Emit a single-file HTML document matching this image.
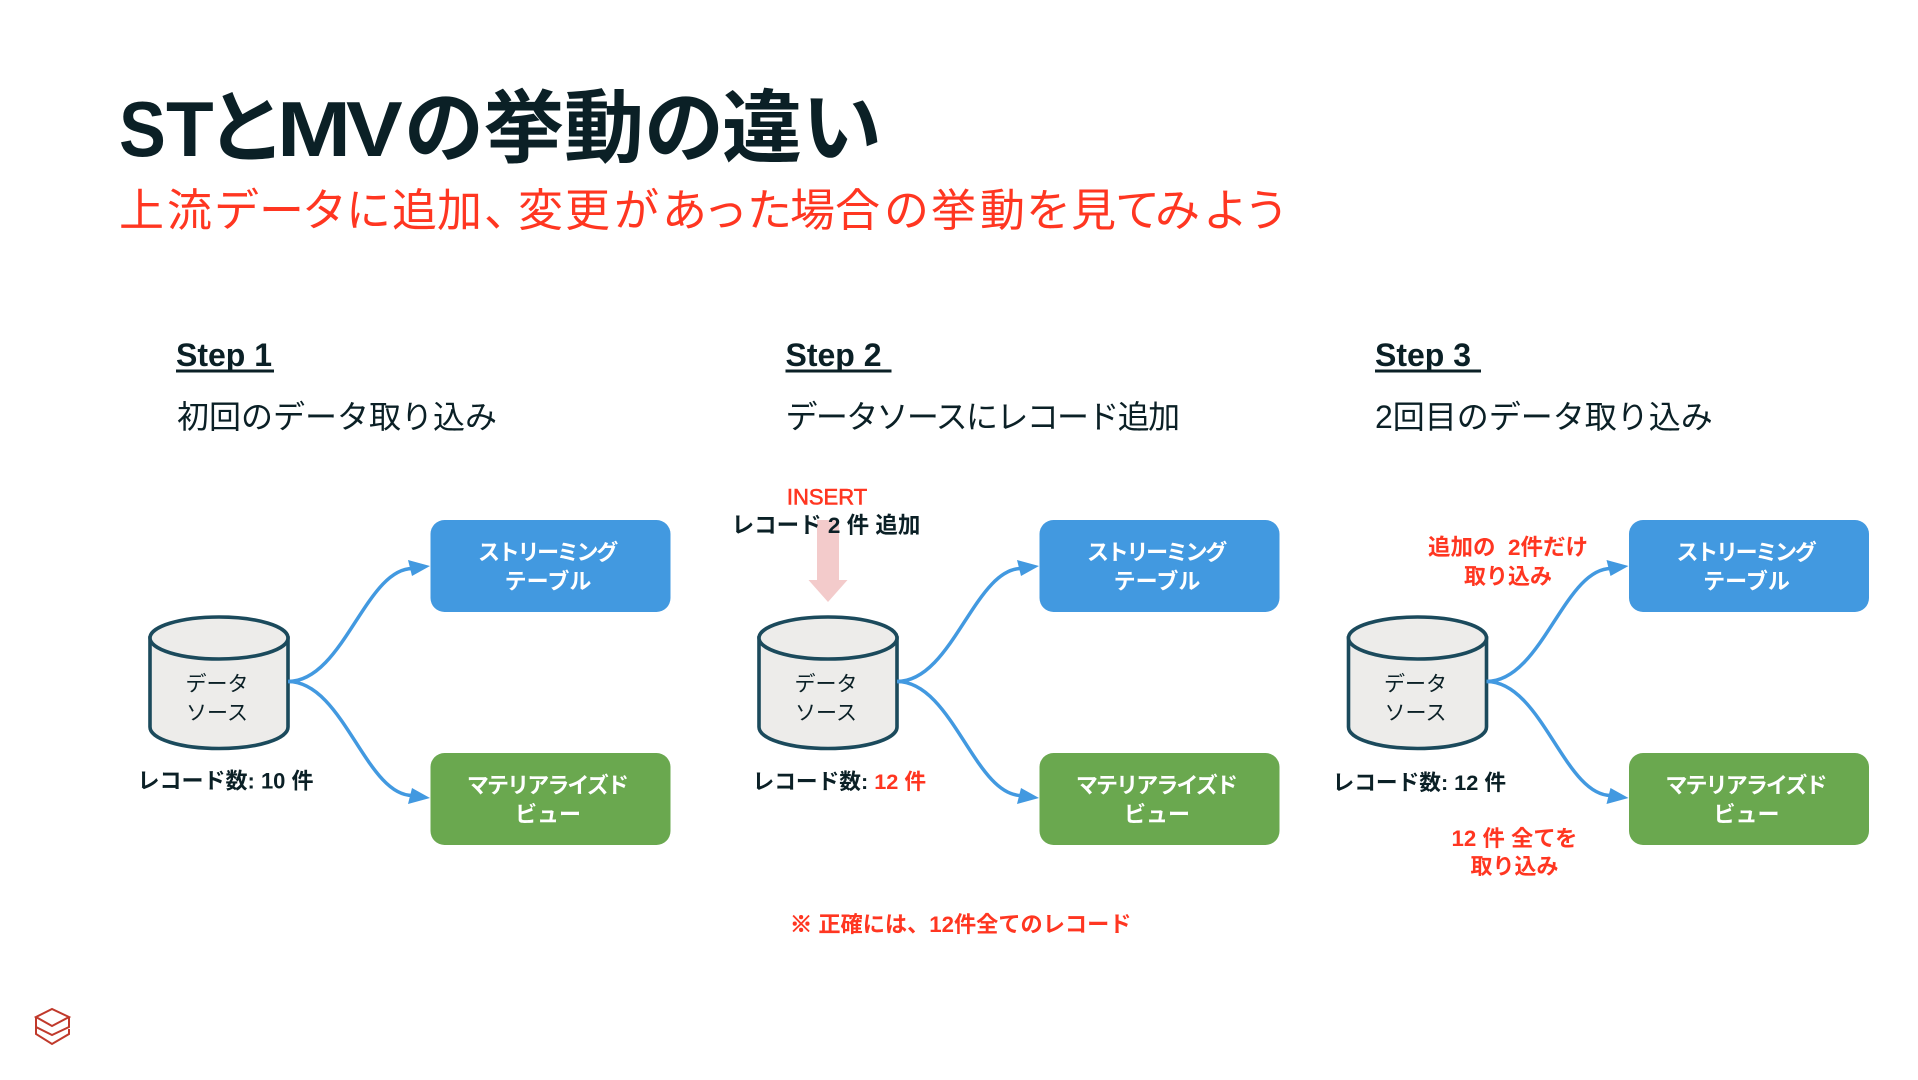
<!DOCTYPE html>
<html lang="ja"><head><meta charset="utf-8"><title>STとMVの挙動の違い</title>
<style>
html,body{margin:0;padding:0;background:#fff}
svg{display:block}
text{font-family:"Liberation Sans","Noto Sans CJK JP",sans-serif;fill:#0b2026}
.b{font-weight:700}
.r{fill:#ff3621}
.w{fill:#fff;font-weight:700;font-size:22px;text-anchor:middle}
.c{text-anchor:middle}
</style></head><body>
<svg width="1918" height="1080" viewBox="0 0 1918 1080" xmlns="http://www.w3.org/2000/svg">
<defs>
<g id="col">
<path d="M150 638V727C150 739 180.500 748.500 219 748.500S288 739 288 727V638Z" fill="#edecea" stroke="#1b4a5c" stroke-width="3.600"/>
<ellipse cx="219" cy="638" rx="69" ry="21" fill="#edecea" stroke="#1b4a5c" stroke-width="3.600"/>
<text class="c" x="217" y="691" font-size="21">データ</text>
<text class="c" x="217" y="720" font-size="21">ソース</text>
<path d="M288 681.500C344 681.500 366 566 414 568.500" fill="none" stroke="#4299e0" stroke-width="3.500"/>
<path d="M288 681.500C344 681.500 366 798 414 795.500" fill="none" stroke="#4299e0" stroke-width="3.500"/>
<polygon points="430,566 408,560 412,576" fill="#4299e0"/>
<polygon points="430,798 412,788 408,804" fill="#4299e0"/>
<rect x="430.500" y="520" width="240" height="92" rx="14" fill="#4299e0"/>
<rect x="430.500" y="753" width="240" height="92" rx="14" fill="#6aa84f"/>
<text class="w" x="547" y="560" style="letter-spacing:-2.300px">ストリーミング</text>
<text class="w" x="548" y="589">テーブル</text>
<text class="w" x="547" y="793" style="letter-spacing:-1.900px">マテリアライズド</text>
<text class="w" x="548" y="822">ビュー</text>
</g>
</defs>

<g font-size="78">
<text class="b" transform="translate(119 156) scale(.9 1)">S</text>
<text class="b" x="166" y="156">T</text>
<text class="b" font-size="80" x="206" y="156">と</text>
<text class="b" transform="translate(277 156) scale(1.14 1)">M</text>
<text class="b" transform="translate(346 156) scale(1.09 1)">V</text>
<text class="b" font-size="80" x="404 484 564 644 722 802" y="156">の挙動の違い</text>
</g>
<text class="r" y="226" font-size="45" x="119 167 214 259 302 346 392 437 484 518 565 614 662 703 747 790 835 884 931 980 1026 1071 1115 1155 1203 1244">上流データに追加、変更があった場合の挙動を見てみよう</text>

<text class="b" x="176" y="366" font-size="32">Step 1</text>
<rect x="176" y="369.500" width="98" height="3" fill="#0b2026"/>
<text x="177" y="428" font-size="32">初回のデータ取り込み</text>

<text class="b" x="785.500" y="366" font-size="32">Step 2</text>
<rect x="785.500" y="369.500" width="106" height="3" fill="#0b2026"/>
<text x="785.500" y="428" font-size="32" style="letter-spacing:-1.650px">データソースにレコード追加</text>

<text class="b" x="1375" y="366" font-size="32">Step 3</text>
<rect x="1375" y="369.500" width="106" height="3" fill="#0b2026"/>
<text x="1375" y="428" font-size="32">2回目のデータ取り込み</text>

<use href="#col"/>
<g transform="translate(609 0)"><use href="#col"/></g>
<g transform="translate(1198.500 0)"><use href="#col"/></g>

<polygon points="817,520 839,520 839,580 847.500,580 828,602 808.500,580 817,580" fill="#f3cbcb"/>
<text class="c r" x="827" y="504.500" font-size="22" style="stroke:#ff3621;stroke-width:.6">INSERT</text>
<text class="b c" x="826" y="533" font-size="22.500">レコード 2 件 追加</text>

<text class="b" x="137.500" y="788.500" font-size="22">レコード数: 10 件</text>
<text class="b" x="752.500" y="789" font-size="21.700">レコード数: <tspan class="r">12 件</tspan></text>
<text class="b" x="1332.500" y="790" font-size="21.700">レコード数: 12 件</text>

<text class="b r" x="790" y="932" font-size="22.200"><tspan style="stroke:#ff3621;stroke-width:.9">※</tspan> 正確には、12件全てのレコード</text>

<text class="b r c" x="1508" y="555" font-size="22.500">追加の &#160;2件だけ</text>
<text class="b r c" x="1508" y="584" font-size="22">取り込み</text>
<text class="b r c" x="1514.500" y="846" font-size="22.300">12 件 全てを</text>
<text class="b r c" x="1514.500" y="874" font-size="22">取り込み</text>

<g fill="none" stroke="#c0392b" stroke-width="2">
<polygon points="36,1017 52,1009 69,1017 52,1026"/>
<polyline points="36,1017 36,1027 52,1035 69,1027 69,1017"/>
<polyline points="36,1027 36,1034 52,1044 69,1034 69,1029"/>
</g>
</svg>
</body></html>
